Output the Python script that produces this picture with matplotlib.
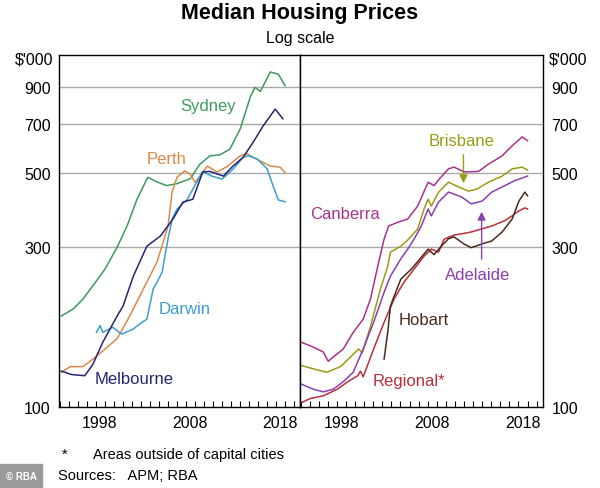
import numpy as np
import matplotlib.pyplot as plt
from matplotlib.ticker import FixedLocator, NullFormatter, NullLocator
from matplotlib.patches import Rectangle

plt.rcParams['font.family'] = ['Liberation Sans', 'DejaVu Sans']

# ---- data ($'000, log scale) ----
syd_x = [1994.2, 1995.5, 1996.6, 1997.7, 1999.05, 2000.4, 2001.5, 2002.6, 2003.8, 2004.8, 2005.9,
         2007.0, 2008.5, 2009.6, 2010.7, 2011.8, 2012.9, 2014.05, 2015.2, 2015.7, 2016.3, 2017.4,
         2018.3, 2019.05]
syd_y = [187, 196, 210, 230, 258, 300, 347, 417, 485, 470, 458, 464, 480, 531, 562, 566, 588, 675,
         845, 900, 875, 1000, 985, 910]

per_x = [1994.2, 1995.2, 1996.6, 1997.7, 1998.8, 2000.4, 2001.8, 2003.3, 2004.8, 2005.5, 2006.05,
         2006.5, 2007.05, 2007.9, 2008.5, 2009.05, 2009.6, 2010.4, 2011.5, 2012.6, 2014.05, 2014.8,
         2016.3, 2017.4, 2018.5, 2019.05]
per_y = [127, 132, 132, 139, 147, 160, 187, 225, 270, 310, 347, 439, 485, 507, 496, 468, 489, 524,
         503, 522, 562, 570, 542, 524, 520, 500]

mel_x = [1994.2, 1995.35, 1996.8, 1997.7, 1998.8, 2000.4, 2001.05, 2002.2, 2003.7, 2005.2, 2006.6,
         2007.7, 2008.8, 2009.9, 2010.7, 2012.2, 2013.2, 2014.4, 2015.5, 2016.6, 2017.95, 2018.8]
mel_y = [128, 125, 124, 134, 156, 187, 200, 246, 302, 324, 364, 409, 417, 503, 505, 489, 522, 557,
         617, 690, 775, 725]

dar_x = [1998.1, 1998.5, 1998.8, 1999.9, 2000.9, 2002.2, 2002.9, 2003.7, 2004.4, 2005.0, 2005.4,
         2005.7, 2006.05, 2006.5, 2007.05, 2008.2, 2008.8, 2009.9, 2010.9, 2012.05, 2013.3, 2014.4,
         2015.0, 2015.95, 2017.05, 2017.7, 2018.3, 2019.05]
dar_y = [167, 175, 167, 173, 165, 171, 177, 183, 225, 241, 253, 282, 318, 364, 390, 417, 447, 505,
         489, 479, 514, 557, 562, 550, 514, 458, 415, 410]

can_x = [1994.1, 1995.4, 1996.5, 1997.05, 1997.6, 1998.7, 1999.8, 2000.9, 2001.7, 2002.5, 2003.2,
         2003.7, 2004.7, 2005.8, 2006.9, 2008.05, 2008.7, 2009.3, 2010.3, 2010.9, 2012.05, 2013.6,
         2014.7, 2016.2, 2017.3, 2018.4, 2019.0]
can_y = [156, 151, 146, 137, 141, 149, 167, 183, 210, 263, 317, 347, 356, 364, 398, 469, 458, 480,
         514, 520, 503, 505, 531, 562, 602, 640, 624]

bri_x = [1994.1, 1995.4, 1996.9, 1998.4, 1999.5, 2000.4, 2000.8, 2001.7, 2002.8, 2003.6, 2003.9,
         2005.05, 2005.8, 2006.9, 2007.6, 2008.05, 2008.4, 2009.2, 2010.3, 2011.4, 2012.5, 2013.4,
         2014.7, 2016.2, 2017.3, 2018.4, 2019.0]
bri_y = [133, 130, 127, 132, 141, 149, 145, 174, 225, 263, 290, 302, 315, 340, 390, 417, 398, 438,
         469, 454, 441, 447, 469, 489, 514, 520, 510]

ade_x = [1994.1, 1995.4, 1996.5, 1997.6, 1998.7, 1999.8, 2000.9, 2002.05, 2003.2, 2003.9, 2005.05,
         2005.8, 2006.5, 2007.3, 2008.05, 2008.4, 2009.2, 2010.3, 2011.7, 2012.8, 2014.0, 2015.05,
         2016.5, 2017.6, 2019.0]
ade_y = [117, 113, 111, 113, 119, 127, 149, 179, 220, 246, 277, 296, 317, 347, 390, 372, 409, 438,
         424, 404, 412, 438, 458, 474, 489]

hob_x = [2003.2, 2003.6, 2003.9, 2004.3, 2005.05, 2006.2, 2007.3, 2008.05, 2008.7, 2009.5, 2010.3,
         2010.9, 2012.05, 2012.8, 2014.0, 2015.05, 2016.2, 2017.3, 2018.05, 2018.7, 2019.0]
hob_y = [139, 167, 200, 214, 241, 258, 280, 296, 285, 302, 318, 322, 306, 299, 307, 313, 333, 364,
         412, 438, 427]

reg_x = [1994.1, 1995.05, 1996.5, 1998.05, 1999.2, 2000.3, 2000.6, 2000.9, 2002.05, 2003.2, 2004.3,
         2005.4, 2006.5, 2007.6, 2008.4, 2009.2, 2009.8, 2010.9, 2012.05, 2012.8, 2013.6, 2015.05,
         2016.5, 2017.3, 2018.05, 2018.7, 2019.0]
reg_y = [103, 106, 108, 113, 119, 124, 128, 123, 149, 179, 210, 236, 258, 282, 296, 290, 317, 326,
         330, 333, 338, 347, 360, 372, 385, 393, 390]

year_labels = [1998, 2008, 2018]
y_ticks = [100, 300, 500, 700, 900]
grid_vals = [300, 500, 700, 900]

# ---- figure ----
fig = plt.figure(figsize=(6, 4.89), dpi=100)
ax1 = fig.add_axes([0.0983, 0.1656, 0.4017, 0.7199])
ax2 = fig.add_axes([0.5, 0.1656, 0.405, 0.7199])

lw = 1.1
ax1.plot(syd_x, syd_y, color='#3d9a5e', lw=lw)
ax1.plot(per_x, per_y, color='#d98a4a', lw=lw)
ax1.plot(dar_x, dar_y, color='#3a9ecf', lw=lw)
ax1.plot(mel_x, mel_y, color='#26266e', lw=lw)

ax2.plot(can_x, can_y, color='#a8328c', lw=lw)
ax2.plot(bri_x, bri_y, color='#9a9a14', lw=lw)
ax2.plot(ade_x, ade_y, color='#8a3fb0', lw=lw)
ax2.plot(reg_x, reg_y, color='#b8303a', lw=lw)
ax2.plot(hob_x, hob_y, color='#4a2a1a', lw=lw)

for ax in (ax1, ax2):
    ax.set_yscale('log')
    ax.set_ylim(100, 1124)
    ax.set_xlim(1993.94, 2020.7)
    for g in grid_vals:
        ax.axhline(g, color='#aaaaaa', lw=1, zorder=0)
    ax.yaxis.set_major_locator(FixedLocator(y_ticks))
    ax.yaxis.set_minor_locator(NullLocator())
    ax.set_yticklabels([str(v) for v in y_ticks])
    ax.xaxis.set_major_locator(FixedLocator([y + 0.5 for y in year_labels]))
    ax.set_xticklabels([str(y) for y in year_labels])
    ax.xaxis.set_minor_locator(FixedLocator(np.arange(1994, 2021)))
    ax.xaxis.set_minor_formatter(NullFormatter())
    ax.tick_params(axis='x', which='major', length=0, labelsize=11.5, pad=6)
    ax.tick_params(axis='x', which='minor', direction='in', length=4, width=0.8)
    ax.tick_params(axis='y', which='major', length=0, labelsize=11.5, pad=6)
    for s in ax.spines.values():
        s.set_linewidth(1)

ax1.yaxis.tick_left()
ax2.yaxis.tick_right()
ax1.text(-0.025, 1090, "$'000", transform=ax1.get_yaxis_transform(), ha='right', va='center', fontsize=11.5)
ax2.text(1.025, 1090, "$'000", transform=ax2.get_yaxis_transform(), ha='left', va='center', fontsize=11.5)

# labels
fs = 12
ax1.text(2010.5, 797, 'Sydney', color='#3d9a5e', fontsize=fs, ha='center', va='center')
ax1.text(2005.9, 551, 'Perth', color='#d98a4a', fontsize=fs, ha='center', va='center')
ax1.text(2007.9, 197, 'Darwin', color='#3a9ecf', fontsize=fs, ha='center', va='center')
ax1.text(2002.3, 122, 'Melbourne', color='#26266e', fontsize=fs, ha='center', va='center')

ax2.text(2011.7, 623, 'Brisbane', color='#9a9a14', fontsize=fs, ha='center', va='center')
ax2.text(1998.94, 377, 'Canberra', color='#a8328c', fontsize=fs, ha='center', va='center')
ax2.text(2013.5, 249, 'Adelaide', color='#8a3fb0', fontsize=fs, ha='center', va='center')
ax2.text(2007.6, 183, 'Hobart', color='#4a2a1a', fontsize=fs, ha='center', va='center')
ax2.text(2005.9, 120, 'Regional*', color='#b8303a', fontsize=fs, ha='center', va='center')

ax2.annotate('', xy=(2011.94, 457), xytext=(2011.94, 577),
             arrowprops=dict(arrowstyle='-|>', color='#9a9a14', lw=1, mutation_scale=12))
ax2.annotate('', xy=(2013.94, 390), xytext=(2013.94, 271),
             arrowprops=dict(arrowstyle='-|>', color='#8a3fb0', lw=1, mutation_scale=12))

# titles
fig.text(0.5, 0.972, 'Median Housing Prices', ha='center', va='center', fontsize=15.5, fontweight='bold')
fig.text(0.5, 0.922, 'Log scale', ha='center', va='center', fontsize=11.5)

# footnotes
fig.text(0.103, 0.069, '*', ha='left', va='center', fontsize=10.5)
fig.text(0.155, 0.069, 'Areas outside of capital cities', ha='left', va='center', fontsize=10.5)
fig.text(0.097, 0.027, 'Sources:   APM; RBA', ha='left', va='center', fontsize=10.5)
fig.patches.append(Rectangle((0, 0), 0.07, 0.05, transform=fig.transFigure, color='#9a9a9a', zorder=0))
fig.text(0.035, 0.025, '© RBA', ha='center', va='center', fontsize=7, color='white', fontweight='bold')

fig.savefig('out.png', dpi=100)
